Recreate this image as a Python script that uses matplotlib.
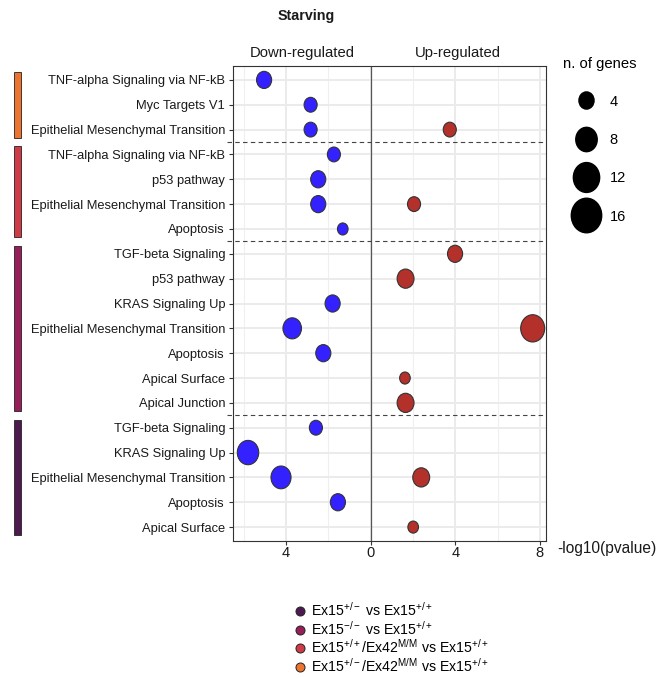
import numpy as np
import matplotlib.pyplot as plt
from matplotlib.path import Path
from matplotlib.markers import MarkerStyle
from matplotlib.lines import Line2D
from matplotlib.patches import Rectangle
from matplotlib.transforms import Affine2D, blended_transform_factory

plt.rcParams['font.family'] = ['Liberation Sans', 'DejaVu Sans']
plt.rcParams['mathtext.fontset'] = 'custom'
plt.rcParams['mathtext.rm'] = 'Liberation Sans'
plt.rcParams['mathtext.it'] = 'Liberation Sans:italic'
plt.rcParams['mathtext.bf'] = 'Liberation Sans:bold'

DPI = 100

# Hallmark pathways, top to bottom
pathways = [
    "TNF-alpha Signaling via NF-kB", "Myc Targets V1", "Epithelial Mesenchymal Transition",
    "TNF-alpha Signaling via NF-kB", "p53 pathway", "Epithelial Mesenchymal Transition", "Apoptosis",
    "TGF-beta Signaling", "p53 pathway", "KRAS Signaling Up", "Epithelial Mesenchymal Transition",
    "Apoptosis", "Apical Surface", "Apical Junction",
    "TGF-beta Signaling", "KRAS Signaling Up", "Epithelial Mesenchymal Transition", "Apoptosis",
    "Apical Surface",
]

comparisons = [
    r"Ex15$^{\mathrm{+/-}}$ vs Ex15$^{\mathrm{+/+}}$",
    r"Ex15$^{\mathrm{-/-}}$ vs Ex15$^{\mathrm{+/+}}$",
    r"Ex15$^{\mathrm{+/+}}$/Ex42$^{\mathrm{M/M}}$ vs Ex15$^{\mathrm{+/+}}$",
    r"Ex15$^{\mathrm{+/-}}$/Ex42$^{\mathrm{M/M}}$ vs Ex15$^{\mathrm{+/+}}$",
]
comparison_colors = ["#4D1A4F", "#961F5A", "#CE3B47", "#EB7530"]
# which comparison each pathway row belongs to
row_comparison = [3, 3, 3, 2, 2, 2, 2, 1, 1, 1, 1, 1, 1, 1, 0, 0, 0, 0, 0]

# -log10(pvalue) and gene counts; nan = not enriched
down_pval = [5.04, 2.84, 2.84, 1.74, 2.48, 2.48, 1.32, np.nan, np.nan, 1.80,
             3.71, 2.24, np.nan, np.nan, 2.59, 5.80, 4.24, 1.55, np.nan]
down_genes = [4, 3, 3, 3, 4, 4, 2, np.nan, np.nan, 4,
              6, 4, np.nan, np.nan, 3, 8, 7, 4, np.nan]
up_pval = [np.nan, np.nan, 3.74, np.nan, np.nan, 2.05, np.nan, 3.99, 1.65, np.nan,
           7.66, np.nan, 1.62, 1.65, np.nan, np.nan, 2.39, np.nan, 2.01]
up_genes = [np.nan, np.nan, 3, np.nan, np.nan, 3, np.nan, 4, 5, np.nan,
            10, np.nan, 2, 5, np.nan, np.nan, 5, np.nan, 2]

size_breaks = [4, 8, 12, 16]

BLUE = "#3322FF"
RED = "#B3302B"
EDGE = "#333333"
ASPECT = 0.88  # dots are drawn slightly taller than wide

ellipse = MarkerStyle(Path.unit_circle().transformed(Affine2D().scale(ASPECT, 1.0)))


def dot_height_pt(n):
    width_px = 7.65 * np.sqrt(n) - 0.2
    return width_px / ASPECT * 72 / DPI


fig = plt.figure(figsize=(6.66, 6.78), dpi=DPI)
ax = fig.add_axes([233 / 666, 1 - 541 / 678, 313 / 666, 475 / 678])

rows = np.arange(1, len(pathways) + 1)
down_pval = np.asarray(down_pval, float)
down_genes = np.asarray(down_genes, float)
up_pval = np.asarray(up_pval, float)
up_genes = np.asarray(up_genes, float)

m = ~np.isnan(down_pval)
ax.scatter(-down_pval[m], rows[m], s=dot_height_pt(down_genes[m]) ** 2, marker=ellipse,
           c=BLUE, edgecolors=EDGE, linewidths=0.8, zorder=4)
m = ~np.isnan(up_pval)
ax.scatter(up_pval[m], rows[m], s=dot_height_pt(up_genes[m]) ** 2, marker=ellipse,
           c=RED, edgecolors=EDGE, linewidths=0.8, zorder=4)

xmin, xmax = -6.51, 8.29
ax.set_xlim(xmin, xmax)
ax.set_ylim(len(pathways) + 0.56, 0.44)

ax.set_yticks(rows)
ax.set_yticklabels(pathways)
ax.set_xticks([-4, 0, 4, 8])
ax.set_xticklabels(["4", "0", "4", "8"])
ax.set_xticks([-6, -2, 2, 6], minor=True)
ax.tick_params(axis="both", which="major", length=3.2, width=0.8, color="#333333",
               labelsize=9.3, labelcolor="#1a1a1a", pad=2.5)
ax.tick_params(axis="x", which="minor", length=0)
ax.tick_params(axis="x", labelsize=10.5, pad=0.5)

ax.set_axisbelow(True)
ax.grid(which="major", color="#EBEBEB", linewidth=1.4)
ax.grid(which="minor", axis="x", color="#EFEFEF", linewidth=0.8)
ax.axvline(0, color="#555555", linewidth=0.9, zorder=2)
for sp in ax.spines.values():
    sp.set_color("#333333")
    sp.set_linewidth(0.8)

# dashed separators and coloured bars for each comparison block
comp_arr = np.asarray(row_comparison)
bar_tr = blended_transform_factory(fig.transFigure, ax.transData)
for k, col in enumerate(comparison_colors):
    r = rows[comp_arr == k]
    ax.add_patch(Rectangle((14 / 666, r.min() - 0.33), 7 / 666, r.max() - r.min() + 0.66,
                           transform=bar_tr, facecolor=col, edgecolor="#222222",
                           linewidth=0.6, clip_on=False))
for y in rows[:-1][np.diff(comp_arr) != 0] + 0.5:
    ax.axhline(y, xmin=-0.02, xmax=1, color="#444444", linewidth=0.8,
               linestyle=(0, (4, 3)), clip_on=False, zorder=3)

# panel headers over each half
for x, lab in [((xmin + 0) / 2, "Down-regulated"), ((0 + xmax) / 2, "Up-regulated")]:
    ax.annotate(lab, xy=(x, 1), xycoords=("data", "axes fraction"), xytext=(0, 4.5),
                textcoords="offset points", ha="center", va="bottom", fontsize=10.7,
                color="#1a1a1a")

fig.text(306 / 666, 1 - 16 / 678, "Starving", ha="center", va="center",
         fontsize=10.3, fontweight="bold", color="#1a1a1a")
fig.text(557 / 666, 1 - 548 / 678, "-log10(pvalue)", ha="left", va="center",
         fontsize=11.2, color="#1a1a1a")

# gene count legend
size_handles = [Line2D([], [], linestyle="none", marker=ellipse, markersize=dot_height_pt(n),
                       markerfacecolor="black", markeredgecolor="black") for n in size_breaks]
fig.legend(size_handles, [str(n) for n in size_breaks], title="n. of genes",
           loc="upper left", bbox_to_anchor=(563 / 666, 1 - 57 / 678),
           frameon=False, fontsize=10.5, title_fontsize=10.7, borderpad=0,
           borderaxespad=0, handlelength=3.2, handletextpad=0.0,
           handleheight=1.0, labelspacing=1.62, alignment="left")

# comparison legend
comp_handles = [Line2D([], [], linestyle="none", marker="o", markersize=6.5,
                       markerfacecolor=c, markeredgecolor="#222222", markeredgewidth=0.7)
                for c in comparison_colors]
fig.legend(comp_handles, comparisons, loc="upper left",
           bbox_to_anchor=(293 / 666, 1 - 601 / 678), frameon=False, fontsize=10.2,
           borderpad=0, borderaxespad=0, handlelength=1.0, handletextpad=0.3,
           labelspacing=0.05)

fig.savefig("out.png", dpi=DPI)
